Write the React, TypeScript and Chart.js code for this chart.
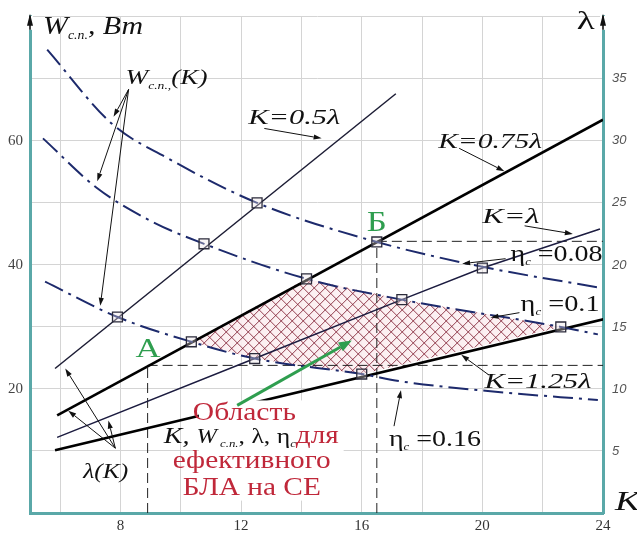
import { useEffect, useRef } from "react";
import { Chart, registerables } from "chart.js";

Chart.register(...registerables);

// ---- axes ----
const kGrid = [5, 6, 8, 10, 12, 14, 16, 18, 20, 22, 24];
const kLabels = [8, 12, 16, 20, 24];
const wLabels = [20, 40, 60];
const lambdaLabels = [5, 10, 15, 20, 25, 30, 35];

// ---- W_сп(K) for η_c = 0.08, 0.1, 0.16 ----
const eta008K = [5.57, 7.73, 9.57, 12.53, 16.5, 20.0, 23.93];
const eta008W = [74.7, 62.7, 57.2, 50.0, 43.7, 39.7, 36.3];
const eta010K = [5.43, 7.22, 9.0, 10.77, 14.17, 17.33, 22.6, 23.83];
const eta010W = [60.4, 52.4, 47.1, 43.4, 37.75, 34.4, 30.0, 28.8];
const eta016K = [5.5, 7.9, 10.35, 12.45, 16.0, 17.33, 20.1, 23.83];
const eta016W = [37.3, 31.6, 27.6, 24.9, 22.4, 21.2, 19.7, 18.2];

// ---- λ(K) lines ----
const lineHalfK = [5.83, 17.13]; // K = 0.5λ
const lineHalfL = [11.65, 33.8];
const line075K = [5.9, 24.0]; // K = 0.75λ
const line075L = [7.87, 31.7];
const line1K = [5.9, 12.45, 17.33, 20.0, 23.9]; // K = λ
const line1L = [6.1, 12.45, 17.2, 19.75, 22.9];
const line125K = [5.83, 24.1]; // K = 1.25λ
const line125L = [5.06, 15.66];

// ---- intersections of curves and lines ----
const nodeK = [7.9, 10.77, 12.53, 10.35, 14.17, 16.5, 12.45, 17.33, 20.0, 16.0, 22.6];
const nodeW = [31.6, 43.4, 50.0, 27.6, 37.75, 43.7, 24.9, 34.4, 39.5, 22.4, 30.0];

// ---- boundary points А and Б ----
const pointK = [8.9, 16.5];
const pointL = [11.9, 21.9];

// ---- region of efficient UAV ----
const zoneK = [10.35, 14.17, 17.33, 20.0, 22.6, 16.0, 14.2, 12.45, 10.35];
const zoneW = [27.6, 37.75, 34.4, 32.2, 30.0, 22.4, 23.6, 24.9, 27.6];

const TEAL = "#5aa8a8";
const NAVY = "#1d2a6c";
const GREEN = "#2f9e4f";
const RED = "#c0283a";
const INK = "#111111";
const SERIF = "'Liberation Serif', 'DejaVu Serif', serif";

type Run = { t: string; size: number; italic?: boolean; color?: string; dy?: number };
type Note = { k: number; w: number; width: number; runs: Run[] };

const notes: Note[] = [
  { k: 5.433, w: 77.27, width: 100, runs: [
    { t: "W", size: 26, italic: true }, { t: "с.п.", size: 12, italic: true, dy: 5 }, { t: ", Вт", size: 26, italic: true } ] },
  { k: 23.133, w: 78.07, width: 18, runs: [{ t: "λ", size: 26 }] },
  { k: 24.4, w: 0.48, width: 25, runs: [{ t: "K", size: 28, italic: true }] },
  { k: 8.167, w: 69.24, width: 82, runs: [
    { t: "W", size: 22, italic: true }, { t: "с.п.,", size: 11, italic: true, dy: 5 }, { t: "(K)", size: 22, italic: true } ] },
  { k: 12.233, w: 62.65, width: 92, runs: [{ t: "K=0.5λ", size: 22, italic: true }] },
  { k: 18.533, w: 58.8, width: 104, runs: [{ t: "K=0.75λ", size: 22, italic: true }] },
  { k: 16.167, w: 45.46, width: 20, runs: [{ t: "Б", size: 30, color: GREEN }] },
  { k: 20.0, w: 46.75, width: 57, runs: [{ t: "K=λ", size: 22, italic: true }] },
  { k: 20.933, w: 40.64, width: 92, runs: [
    { t: "η", size: 24 }, { t: "c", size: 11, italic: true, dy: 4 }, { t: " =0.08", size: 24 } ] },
  { k: 21.267, w: 32.6, width: 79, runs: [
    { t: "η", size: 24 }, { t: "c", size: 11, italic: true, dy: 4 }, { t: " =0.1", size: 24 } ] },
  { k: 20.067, w: 20.08, width: 107, runs: [{ t: "K=1.25λ", size: 22, italic: true }] },
  { k: 16.9, w: 10.76, width: 92, runs: [
    { t: "η", size: 24 }, { t: "c", size: 11, italic: true, dy: 4 }, { t: " =0.16", size: 24 } ] },
  { k: 8.5, w: 25.2, width: 25, runs: [{ t: "А", size: 28, color: GREEN }] },
  { k: 6.767, w: 5.62, width: 45, runs: [{ t: "λ(K)", size: 21, italic: true }] },
  { k: 10.4, w: 14.94, width: 103, runs: [{ t: "Область", size: 25, color: RED }] },
  { k: 9.433, w: 11.24, width: 175, runs: [
    { t: "K, ", size: 24, italic: true }, { t: "W", size: 21, italic: true },
    { t: " с.п.", size: 11, italic: true, dy: 4 }, { t: ", λ, η", size: 22 },
    { t: "c", size: 11, italic: true, dy: 4 }, { t: "для", size: 25, color: RED } ] },
  { k: 9.733, w: 7.23, width: 158, runs: [{ t: "ефективного", size: 25, color: RED }] },
  { k: 10.067, w: 2.89, width: 138, runs: [{ t: "БЛА на СЕ", size: 25, color: RED }] },
];

// leader arrows: from (K, W) to (K, W)
const pointers: number[][] = [
  [8.27, 68.3, 7.77, 63.9], [8.27, 68.3, 7.23, 53.5], [8.27, 68.3, 7.33, 33.4],
  [12.77, 62.0, 14.67, 60.4], [19.23, 58.8, 20.73, 55.1], [21.4, 46.3, 23.0, 45.0],
  [20.77, 41.0, 19.33, 40.2], [21.23, 32.3, 20.27, 31.5], [20.23, 22.2, 19.3, 25.5],
  [17.07, 14.0, 17.3, 19.8], [7.83, 10.44, 6.17, 23.3], [7.83, 10.44, 6.27, 16.5],
  [7.83, 10.44, 7.6, 14.9],
];
const greenPointer = [11.87, 17.35, 15.67, 27.8];
const captionBox = [10.6, 15.4, 2.0, 18.15];

const toPts = (xs: number[], ys: number[]) => xs.map((x, i) => ({ x, y: ys[i] }));

const fontOf = (r: Run) => `${r.italic ? "italic " : ""}${r.size}px ${SERIF}`;

function drawRuns(ctx: CanvasRenderingContext2D, runs: Run[], x: number, y: number, width: number) {
  ctx.save();
  ctx.textBaseline = "alphabetic";
  ctx.textAlign = "left";
  let natural = 0;
  for (const r of runs) {
    ctx.font = fontOf(r);
    natural += ctx.measureText(r.t).width;
  }
  const sx = width / natural;
  ctx.translate(x, y);
  ctx.scale(sx, 1);
  let cx = 0;
  for (const r of runs) {
    ctx.font = fontOf(r);
    ctx.fillStyle = r.color ?? INK;
    ctx.fillText(r.t, cx, r.dy ?? 0);
    cx += ctx.measureText(r.t).width;
  }
  ctx.restore();
}

function drawArrow(ctx: CanvasRenderingContext2D, x1: number, y1: number, x2: number, y2: number,
  color: string, lw: number, head: number, half: number) {
  const a = Math.atan2(y2 - y1, x2 - x1);
  const bx = x2 - head * Math.cos(a);
  const by = y2 - head * Math.sin(a);
  ctx.save();
  ctx.strokeStyle = color;
  ctx.fillStyle = color;
  ctx.lineWidth = lw;
  ctx.beginPath();
  ctx.moveTo(x1, y1);
  ctx.lineTo(bx, by);
  ctx.stroke();
  ctx.beginPath();
  ctx.moveTo(x2, y2);
  ctx.lineTo(bx + half * Math.sin(a), by - half * Math.cos(a));
  ctx.lineTo(bx - half * Math.sin(a), by + half * Math.cos(a));
  ctx.closePath();
  ctx.fill();
  ctx.restore();
}

const decor = {
  id: "decor",
  beforeDatasetsDraw(chart: any) {
    const { ctx } = chart;
    const sx = chart.scales.x;
    const sy = chart.scales.y;
    const px = zoneK.map((k) => sx.getPixelForValue(k));
    const py = zoneW.map((w) => sy.getPixelForValue(w));
    ctx.save();
    ctx.beginPath();
    px.forEach((x, i) => (i ? ctx.lineTo(x, py[i]) : ctx.moveTo(x, py[i])));
    ctx.closePath();
    ctx.fillStyle = "rgba(252,238,241,0.9)";
    ctx.fill();
    ctx.clip();
    const x0 = Math.min(...px), x1 = Math.max(...px);
    const y0 = Math.min(...py), y1 = Math.max(...py);
    const h = y1 - y0;
    ctx.strokeStyle = "rgba(128,30,50,0.85)";
    ctx.lineWidth = 1;
    ctx.beginPath();
    for (let t = x0 - h; t < x1 + h; t += 11) {
      ctx.moveTo(t, y0);
      ctx.lineTo(t + h, y1);
      ctx.moveTo(t, y1);
      ctx.lineTo(t + h, y0);
    }
    ctx.stroke();
    ctx.restore();
  },
  afterDatasetsDraw(chart: any) {
    const { ctx, chartArea } = chart;
    const sx = chart.scales.x;
    const sy = chart.scales.y;
    const X = (k: number) => sx.getPixelForValue(k);
    const Y = (w: number) => sy.getPixelForValue(w);

    // blank panel behind the caption
    ctx.save();
    ctx.fillStyle = "#ffffff";
    const bx0 = X(captionBox[0]), bx1 = X(captionBox[1]);
    const by0 = Y(captionBox[3]), by1 = Y(captionBox[2]);
    ctx.fillRect(bx0, by0, bx1 - bx0, by1 - by0);
    ctx.restore();

    // green pointer into the region
    drawArrow(ctx, X(greenPointer[0]), Y(greenPointer[1]), X(greenPointer[2]), Y(greenPointer[3]), GREEN, 3, 13, 5);

    // leader arrows
    for (const p of pointers) {
      drawArrow(ctx, X(p[0]), Y(p[1]), X(p[2]), Y(p[3]), INK, 1, 8, 2.6);
    }

    // labels
    for (const n of notes) drawRuns(ctx, n.runs, X(n.k), Y(n.w), n.width);

    // axis arrowheads
    ctx.save();
    for (const ax of [chartArea.left, chartArea.right]) {
      ctx.fillStyle = "#ffffff";
      ctx.fillRect(ax - 3, chartArea.top - 1, 6, 14);
      ctx.strokeStyle = "#111";
      ctx.fillStyle = "#111";
      ctx.lineWidth = 1.6;
      ctx.beginPath();
      ctx.moveTo(ax, chartArea.top + 13);
      ctx.lineTo(ax, chartArea.top - 1);
      ctx.stroke();
      ctx.beginPath();
      ctx.moveTo(ax, chartArea.top - 3);
      ctx.lineTo(ax - 3, chartArea.top + 9);
      ctx.lineTo(ax + 3, chartArea.top + 9);
      ctx.closePath();
      ctx.fill();
    }
    ctx.restore();
  },
};

const dashDot = [20, 6, 3, 6];

export default function App() {
  const ref = useRef<HTMLCanvasElement>(null);

  useEffect(() => {
    if (!ref.current) return;
    const curve = (data: { x: number; y: number }[]) => ({
      data, borderColor: NAVY, borderWidth: 2, borderDash: dashDot, tension: 0.4,
      cubicInterpolationMode: "monotone" as const, pointRadius: 0, yAxisID: "y",
    });
    const straight = (data: { x: number; y: number }[], color: string, width: number) => ({
      data, borderColor: color, borderWidth: width, pointRadius: 0, tension: 0, yAxisID: "y2",
    });
    const dashed = (data: { x: number; y: number }[]) => ({
      data, borderColor: "#222", borderWidth: 1, borderDash: [10, 5], pointRadius: 0, yAxisID: "y2",
    });

    const chart = new Chart(ref.current, {
      type: "line",
      data: {
        datasets: [
          {
            data: toPts(nodeK, nodeW), showLine: false, pointStyle: "rect", pointRadius: 7,
            pointBorderColor: "#2b2b3b", pointBorderWidth: 1.3,
            pointBackgroundColor: "rgba(235,225,230,0.35)", yAxisID: "y",
          },
          curve(toPts(eta008K, eta008W)),
          curve(toPts(eta010K, eta010W)),
          curve(toPts(eta016K, eta016W)),
          straight(toPts(lineHalfK, lineHalfL), "#1c1c34", 1.5),
          straight(toPts(line075K, line075L), "#000000", 2.6),
          straight(toPts(line1K, line1L), "#1c1c40", 1.5),
          straight(toPts(line125K, line125L), "#000000", 2.6),
          dashed([{ x: pointK[0], y: 0 }, { x: pointK[0], y: pointL[0] }]),
          dashed([{ x: pointK[0], y: pointL[0] }, { x: 24, y: pointL[0] }]),
          dashed([{ x: pointK[1], y: 0 }, { x: pointK[1], y: pointL[1] }]),
          dashed([{ x: pointK[1], y: pointL[1] }, { x: 24, y: pointL[1] }]),
        ] as any,
      },
      options: {
        animation: false,
        responsive: false,
        events: [],
        layout: { padding: { top: 15, left: 0, right: 0, bottom: 0 } },
        plugins: { legend: { display: false }, tooltip: { enabled: false } },
        scales: {
          x: {
            type: "linear", min: 5, max: 24, position: "bottom",
            afterBuildTicks: (s: any) => { s.ticks = kGrid.map((v) => ({ value: v })); },
            afterFit: (s: any) => { s.height = 20; },
            ticks: {
              autoSkip: false, maxRotation: 0, padding: 4, color: "#333",
              font: { family: SERIF, size: 15 },
              callback: (v: any) => (kLabels.includes(Number(v)) ? String(v) : ""),
            },
            grid: { color: "#d4d4d4", drawTicks: false },
            border: { color: TEAL, width: 3 },
          },
          y: {
            type: "linear", min: 0, max: 80, position: "left",
            afterFit: (s: any) => { s.width = 30; },
            ticks: {
              stepSize: 10, padding: 7, color: "#444",
              font: { family: SERIF, size: 15 },
              callback: (v: any) => (wLabels.includes(Number(v)) ? String(v) : ""),
            },
            grid: { color: "#d4d4d4", drawTicks: false },
            border: { color: TEAL, width: 3 },
          },
          y2: {
            type: "linear", min: 0, max: 40, position: "right",
            afterFit: (s: any) => { s.width = 34; },
            ticks: {
              stepSize: 5, padding: 9, color: "#555",
              font: { family: "'Liberation Sans', sans-serif", size: 13, style: "italic" },
              callback: (v: any) => (lambdaLabels.includes(Number(v)) ? String(v) : ""),
            },
            grid: { drawOnChartArea: false, drawTicks: false },
            border: { color: TEAL, width: 3 },
          },
        },
      } as any,
      plugins: [decor],
    });
    return () => chart.destroy();
  }, []);

  return (
    <div style={{ position: "fixed", left: 0, top: 0, width: 637, height: 533, background: "#ffffff" }}>
      <canvas ref={ref} width={637} height={533} style={{ width: 637, height: 533, display: "block" }} />
    </div>
  );
}
